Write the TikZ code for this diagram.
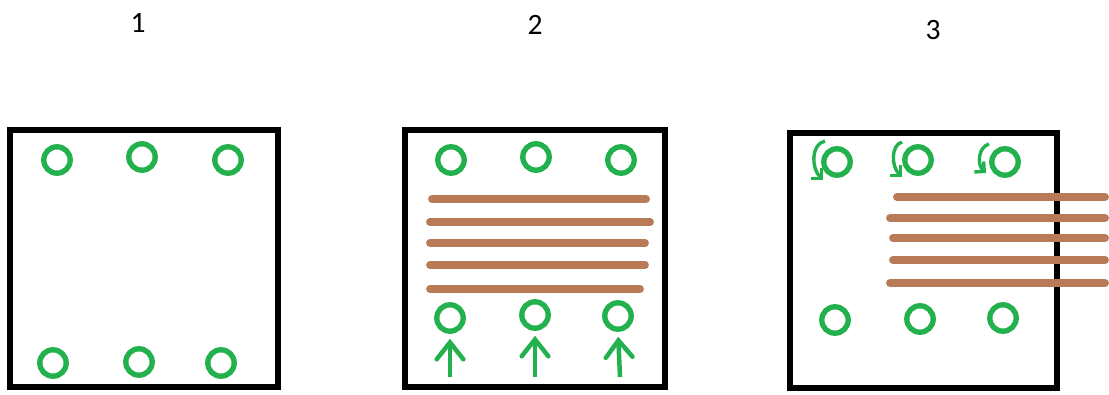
\documentclass[tikz,border=0pt]{standalone}
\usepackage{fontspec}
\setmainfont{Carlito}
\usetikzlibrary{arrows.meta}
\definecolor{holeGreen}{HTML}{22B14C}
\definecolor{layerBrown}{HTML}{B97A57}
\tikzset{
  panelBox/.style={draw=black, line width=3.6pt},
  holeNode/.style={
    circle,
    draw=holeGreen,
    line width=3.8pt,
    minimum size=0.66cm,
    inner sep=0pt
  },
  layerLine/.style={layerBrown, line width=5.6pt, line cap=round},
  pushArrow/.style={
    holeGreen,
    line width=3.2pt,
    shorten >=3.5pt,
    -{Straight Barb[length=12pt, width=19pt, line cap=round]}
  },
  spinArrow/.style={
    holeGreen,
    line width=2.4pt,
    -{Straight Barb[length=5pt, width=10pt]}
  },
  stepLabel/.style={font=\fontsize{21}{24}\selectfont, inner sep=0pt}
}

\begin{document}
\begin{tikzpicture}[x=0.025cm, y=-0.025cm]
  \useasboundingbox (0,0) rectangle (1109,394);

  % panel labels
  \node[stepLabel] (lbl1) at (138,23) {1};
  \node[stepLabel] (lbl2) at (535,25) {2};
  \node[stepLabel] (lbl3) at (933,30) {3};

  % panel 1: holes only
  \draw[panelBox] (10,130) rectangle (278,387);
  \node[holeNode] (t1a) at (57,160) {};
  \node[holeNode] (t1b) at (142,157) {};
  \node[holeNode] (t1c) at (228,160) {};
  \node[holeNode] (b1a) at (53,363) {};
  \node[holeNode] (b1b) at (139,362) {};
  \node[holeNode] (b1c) at (221,363) {};

  % panel 2: layers pushed in from below
  \draw[panelBox] (405,130) rectangle (665,387);
  \node[holeNode] (t2a) at (451,160) {};
  \node[holeNode] (t2b) at (536,157) {};
  \node[holeNode] (t2c) at (621,160) {};
  \foreach \y/\xa/\xb in {199/432/646, 222/430/650, 243/430/645, 265/430/645, 289/430/640}
    \draw[layerLine] (\xa,\y) -- (\xb,\y);
  \node[holeNode] (b2a) at (450,318) {};
  \node[holeNode] (b2b) at (535,315) {};
  \node[holeNode] (b2c) at (618,316) {};
  \coordinate (p2a) at (450,377);
  \coordinate (p2b) at (535,377);
  \coordinate (p2c) at (620,377);
  \draw[pushArrow] (p2a) -- (b2a.south);
  \draw[pushArrow] (p2b) -- (b2b.south);
  \draw[pushArrow] (p2c) -- (b2c.south);

  % panel 3: layers slid out sideways
  \draw[panelBox] (790,133) rectangle (1057,388);
  \node[holeNode] (t3a) at (837,162) {};
  \node[holeNode] (t3b) at (918,160) {};
  \node[holeNode] (t3c) at (1005,162) {};
  \coordinate (h3a) at (825,141);
  \coordinate (e3a) at (823,180);
  \coordinate (h3b) at (902,142);
  \coordinate (e3b) at (902,177);
  \coordinate (h3c) at (989,144);
  \coordinate (e3c) at (986,173);
  \draw[spinArrow] (h3a) .. controls (811,144) and (811,168) .. (e3a);
  \draw[spinArrow] (h3b) .. controls (891,145) and (891,166) .. (e3b);
  \draw[spinArrow] (h3c) .. controls (978,147) and (977,165) .. (e3c);
  \foreach \y/\xa in {197/897, 218/890, 238/893, 260/893, 283/890}
    \draw[layerLine] (\xa,\y) -- (1105,\y);
  \node[holeNode] (b3a) at (835,320) {};
  \node[holeNode] (b3b) at (920,319) {};
  \node[holeNode] (b3c) at (1003,318) {};
\end{tikzpicture}
\end{document}
